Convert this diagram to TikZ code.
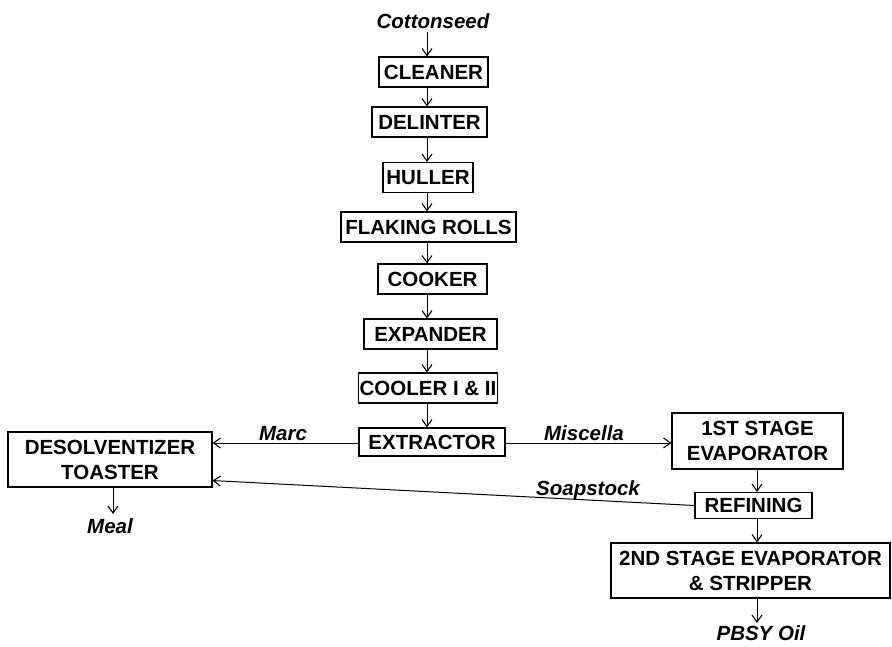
\documentclass[tikz,border=0pt]{standalone}
\usepackage{fontspec}
\setmainfont{Liberation Sans}
\usetikzlibrary{arrows.meta,calc}
\begin{document}
\begin{tikzpicture}[x=1pt,y=-1pt,
 box/.style={draw,line width=1.1pt,inner xsep=1.5pt,inner ysep=0pt,font=\fontsize{20.5}{25}\selectfont\bfseries,align=center},
 lbl/.style={font=\fontsize{20.5}{25}\selectfont\bfseries\itshape,inner sep=0pt,anchor=base},
 arr/.style={line width=1pt,-{Straight Barb[length=7pt,width=10pt,line width=1.1pt]}}]
\useasboundingbox (0,0) rectangle (892,646);
% labels
\node[lbl] (cotton) at (433,28) {Cottonseed};
\node[lbl] (marc) at (283,440) {Marc};
\node[lbl] (misc) at (584,440) {Miscella};
\node[lbl] (soap) at (588,495) {Soapstock};
\node[lbl] (meal) at (110,533) {Meal};
\node[lbl] (oil) at (761,640) {PBSY Oil};
% boxes
\node[box,minimum width=109pt,minimum height=30pt] (cleaner) at (433.5,72) {CLEANER};
\node[box,minimum width=115pt,minimum height=30pt] (delinter) at (429.5,122) {DELINTER};
\node[box,minimum width=90pt,minimum height=30pt] (huller) at (428,177.5) {HULLER};
\node[box,minimum width=175pt,minimum height=30pt] (flaking) at (428.5,227) {FLAKING ROLLS};
\node[box,minimum width=109pt,minimum height=30pt] (cooker) at (432.5,279) {COOKER};
\node[box,minimum width=133pt,minimum height=30pt] (expander) at (430.5,334) {EXPANDER};
\node[box,minimum width=138pt,minimum height=30pt] (cooler) at (428,388) {COOLER I \& II};
\node[box,minimum width=146pt,minimum height=28pt] (extractor) at (432,442) {EXTRACTOR};
\node[box,minimum width=204pt,minimum height=55pt] (desolv) at (110,459.5) {DESOLVENTIZER\\TOASTER};
\node[box,minimum width=171pt,minimum height=56pt] (first) at (757.5,441) {1ST STAGE\\EVAPORATOR};
\node[box,minimum width=117pt,minimum height=26pt] (refining) at (753.5,505.5) {REFINING};
\node[box,minimum width=279pt,minimum height=55pt] (second) at (750.5,570.5) {2ND STAGE EVAPORATOR\\\& STRIPPER};
% connectors
\coordinate (col) at (427,0);
\coordinate (rcol) at (757,0);
\coordinate (mcol) at (113,0);
\coordinate (marcy) at (0,443);
\draw[arr,shorten <=4pt] (cotton.south -| col) -- (cleaner.north -| col);
\draw[arr] (cleaner.south -| col) -- (delinter.north -| col);
\draw[arr] (delinter.south -| col) -- (huller.north -| col);
\draw[arr] (huller.south -| col) -- (flaking.north -| col);
\draw[arr] (flaking.south -| col) -- (cooker.north -| col);
\draw[arr] (cooker.south -| col) -- (expander.north -| col);
\draw[arr] (expander.south -| col) -- (cooler.north -| col);
\draw[arr] (cooler.south -| col) -- (extractor.north -| col);
\draw[arr] (extractor.west |- marcy) -- (desolv.east |- marcy);
\draw[arr] (extractor.east |- marcy) -- (first.west |- marcy);
\draw[arr] (first.south -| rcol) -- (refining.north -| rcol);
\draw[arr] (refining.west) -- ($(desolv.south east)+(0,-7)$);
\draw[arr] (refining.south -| rcol) -- (second.north -| rcol);
\draw[arr,shorten >=2pt] (second.south -| rcol) -- (oil.north -| rcol);
\draw[arr,shorten >=4pt] (desolv.south -| mcol) -- (meal.north -| mcol);
\end{tikzpicture}
\end{document}
